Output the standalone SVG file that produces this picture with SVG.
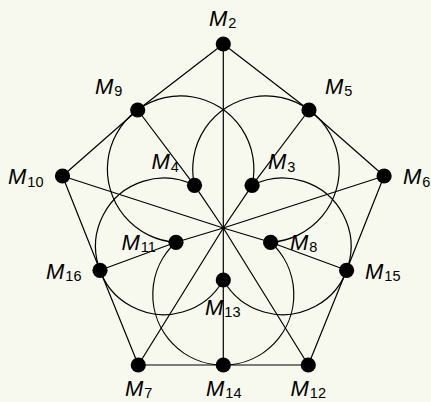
<svg xmlns="http://www.w3.org/2000/svg" width="431" height="402" viewBox="0 0 431 402">
<style>
.e{fill:none;stroke:#000;stroke-width:1.2;stroke-linejoin:round}
.d{fill:#000}
.l{font-family:"Liberation Sans","DejaVu Sans",sans-serif;fill:#000}
.m{font-style:italic;font-size:22px}
.s{font-size:14.5px}
</style>
<rect width="431" height="402" fill="#f7f8ee"/>
<g id="connectors">
<polygon class="e" points="223.3,44 309,110 384.1,176 346.6,270.3 308.3,365 223.3,365 138.3,365 100,270.3 62.5,176 137.7,110"/>
<polyline class="e" points="223.3,44 223.3,365"/>
<polyline class="e" points="137.7,110 194.5,185.3 223.3,228 308.3,365"/>
<polyline class="e" points="309,110 252.1,185.3 223.3,228 138.3,365"/>
<polyline class="e" points="62.5,176 223.3,228 270.6,242.3 346.6,270.3"/>
<polyline class="e" points="384.1,176 223.3,228 176,242.3 100,270.3"/>
<path class="e" d="M252.1,185.3 A73.25,73.25 0 1 0 176,242.3"/>
<path class="e" d="M194.5,185.3 A73.25,73.25 0 1 1 270.6,242.3"/>
<path class="e" d="M252.1,185.3 A68.3,68.3 0 1 1 223.3,280"/>
<path class="e" d="M194.5,185.3 A68.3,68.3 0 1 0 223.3,280"/>
<path class="e" d="M270.6,242.3 A70.5,70.5 0 1 1 176,242.3"/>
</g>
<g id="M2"><circle class="d" cx="223.3" cy="44" r="7.6"/><text class="l" x="209" y="25.5"><tspan class="m">M</tspan><tspan class="s" dx="1" dy="2.5">2</tspan></text></g>
<g id="M9"><circle class="d" cx="137.7" cy="110" r="7.6"/><text class="l" x="95" y="93.5"><tspan class="m">M</tspan><tspan class="s" dx="1" dy="2.5">9</tspan></text></g>
<g id="M5"><circle class="d" cx="309" cy="110" r="7.6"/><text class="l" x="325" y="93.5"><tspan class="m">M</tspan><tspan class="s" dx="1" dy="2.5">5</tspan></text></g>
<g id="M10"><circle class="d" cx="62.5" cy="176" r="7.6"/><text class="l" x="8" y="184"><tspan class="m">M</tspan><tspan class="s" dx="1" dy="2.5">10</tspan></text></g>
<g id="M6"><circle class="d" cx="384.1" cy="176" r="7.6"/><text class="l" x="403" y="184"><tspan class="m">M</tspan><tspan class="s" dx="1" dy="2.5">6</tspan></text></g>
<g id="M4"><circle class="d" cx="194.5" cy="185.3" r="7.6"/><text class="l" x="151.5" y="169"><tspan class="m">M</tspan><tspan class="s" dx="1" dy="2.5">4</tspan></text></g>
<g id="M3"><circle class="d" cx="252.1" cy="185.3" r="7.6"/><text class="l" x="268" y="169"><tspan class="m">M</tspan><tspan class="s" dx="1" dy="2.5">3</tspan></text></g>
<g id="M11"><circle class="d" cx="176" cy="242.3" r="7.6"/><text class="l" x="121.5" y="249.5"><tspan class="m">M</tspan><tspan class="s" dx="1" dy="2.5">11</tspan></text></g>
<g id="M8"><circle class="d" cx="270.6" cy="242.3" r="7.6"/><text class="l" x="290" y="249.5"><tspan class="m">M</tspan><tspan class="s" dx="1" dy="2.5">8</tspan></text></g>
<g id="M16"><circle class="d" cx="100" cy="270.3" r="7.6"/><text class="l" x="46" y="278.5"><tspan class="m">M</tspan><tspan class="s" dx="1" dy="2.5">16</tspan></text></g>
<g id="M15"><circle class="d" cx="346.6" cy="270.3" r="7.6"/><text class="l" x="365" y="278.5"><tspan class="m">M</tspan><tspan class="s" dx="1" dy="2.5">15</tspan></text></g>
<g id="M13"><circle class="d" cx="223.3" cy="280" r="7.6"/><text class="l" x="205" y="314.5"><tspan class="m">M</tspan><tspan class="s" dx="1" dy="2.5">13</tspan></text></g>
<g id="M7"><circle class="d" cx="138.3" cy="365" r="7.6"/><text class="l" x="125" y="396"><tspan class="m">M</tspan><tspan class="s" dx="1" dy="2">7</tspan></text></g>
<g id="M14"><circle class="d" cx="223.3" cy="365" r="7.6"/><text class="l" x="206" y="396"><tspan class="m">M</tspan><tspan class="s" dx="1" dy="2">14</tspan></text></g>
<g id="M12"><circle class="d" cx="308.3" cy="365" r="7.6"/><text class="l" x="290.5" y="396"><tspan class="m">M</tspan><tspan class="s" dx="1" dy="2">12</tspan></text></g>
</svg>
